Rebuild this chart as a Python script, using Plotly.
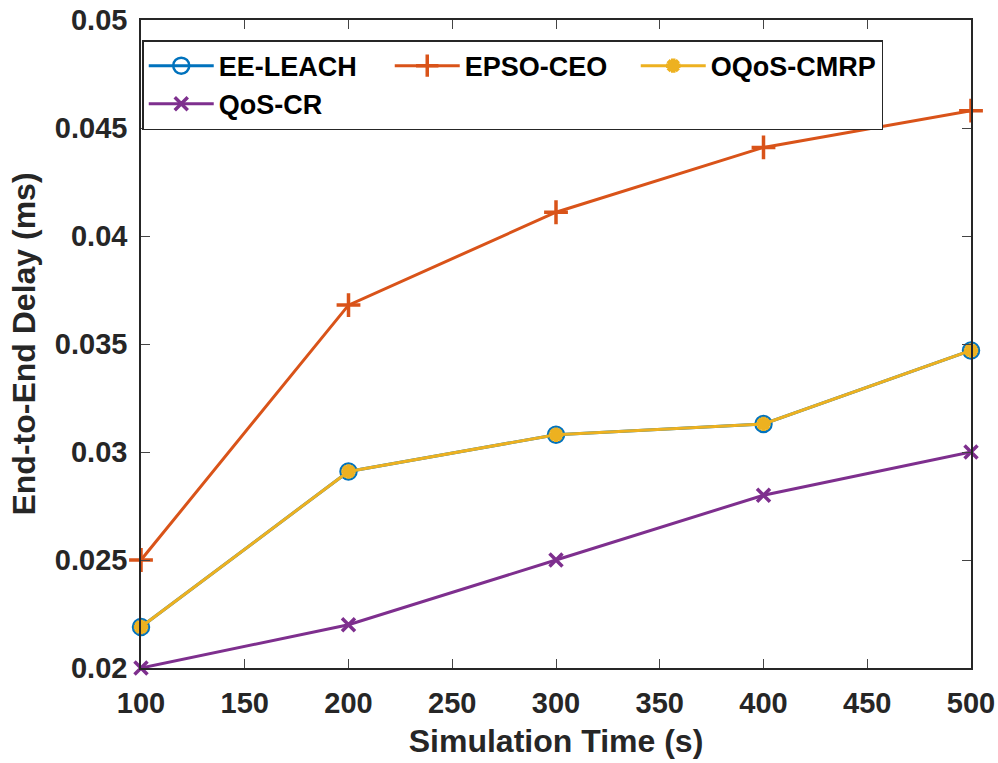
import plotly.graph_objects as go

sim_time = [100, 200, 300, 400, 500]
ee_leach = [0.0219, 0.0291, 0.0308, 0.0313, 0.0347]
epso_ceo = [0.0250, 0.0368, 0.0411, 0.0441, 0.0458]
oqos_cmrp = [0.0219, 0.0291, 0.0308, 0.0313, 0.0347]
qos_cr = [0.0200, 0.0220, 0.0250, 0.0280, 0.0300]

x_ticks = [100, 150, 200, 250, 300, 350, 400, 450, 500]
y_ticks = [0.02, 0.025, 0.03, 0.035, 0.04, 0.045, 0.05]
y_tick_text = ["0.02", "0.025", "0.03", "0.035", "0.04", "0.045", "0.05"]

fig = go.Figure()
fig.add_trace(go.Scatter(x=sim_time, y=ee_leach, name="EE-LEACH", mode="lines+markers", cliponaxis=False,
                         line=dict(color="#0072BD", width=3),
                         marker=dict(symbol="circle-open", size=16, color="#0072BD", line=dict(width=2.5))))
fig.add_trace(go.Scatter(x=sim_time, y=epso_ceo, name="EPSO-CEO", mode="lines+markers", cliponaxis=False,
                         line=dict(color="#D95319", width=3),
                         marker=dict(symbol="cross-thin-open", size=17, color="#D95319", line=dict(width=3.5, color="#D95319"))))
fig.add_trace(go.Scatter(x=sim_time, y=oqos_cmrp, name="OQoS-CMRP", mode="lines+markers", cliponaxis=False,
                         line=dict(color="#EDB120", width=3),
                         marker=dict(symbol="asterisk-open", size=12, color="#EDB120", line=dict(width=4.5, color="#EDB120"))))
fig.add_trace(go.Scatter(x=sim_time, y=qos_cr, name="QoS-CR", mode="lines+markers", cliponaxis=False,
                         line=dict(color="#7E2F8E", width=3),
                         marker=dict(symbol="x-thin-open", size=13, color="#7E2F8E", line=dict(width=3.5, color="#7E2F8E"))))

fig.update_layout(
    width=998, height=763,
    margin=dict(l=141, r=27, t=20, b=95, autoexpand=False),
    plot_bgcolor="white", paper_bgcolor="white",
    font=dict(family="Liberation Sans", color="#262626"),
    showlegend=True,
    legend=dict(orientation="h", x=0.0015, y=0.969, xanchor="left", yanchor="top",
                bgcolor="white", bordercolor="#262626", borderwidth=1.5,
                font=dict(family="Liberation Sans", size=27, color="black", weight="bold"),
                entrywidth=166, entrywidthmode="pixels", itemwidth=65,
                tracegroupgap=0),
    xaxis=dict(range=[100, 500], tickvals=x_ticks, ticks="inside", ticklen=9,
               showline=True, linecolor="#262626", linewidth=1.5, mirror="ticks",
               showgrid=False, zeroline=False, ticklabelstandoff=8, automargin=False,
               tickfont=dict(family="Liberation Sans", size=29, color="#262626", weight="bold"),
               title=dict(text="Simulation Time (s)", standoff=12,
                          font=dict(family="Liberation Sans", size=32, color="#262626", weight="bold"))),
    yaxis=dict(range=[0.02, 0.05], tickvals=y_ticks, ticktext=y_tick_text, ticks="inside", ticklen=9,
               showline=True, linecolor="#262626", linewidth=1.5, mirror="ticks",
               showgrid=False, zeroline=False, ticklabelstandoff=6, automargin=False,
               tickfont=dict(family="Liberation Sans", size=29, color="#262626", weight="bold"),
               title=dict(text="End-to-End Delay (ms)", standoff=10,
                          font=dict(family="Liberation Sans", size=32, color="#262626", weight="bold"))),
)

fig.write_html("out.html", config={"displayModeBar": False},
               post_script="document.body.style.margin='0';document.body.style.overflow='hidden';")
